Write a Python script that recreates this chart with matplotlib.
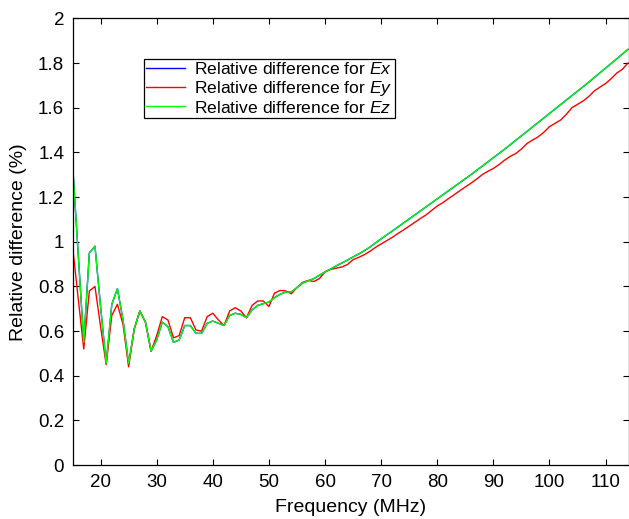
import numpy as np
import matplotlib

matplotlib.use("Agg")
import matplotlib.pyplot as plt

plt.rcParams["font.family"] = ["Liberation Sans", "DejaVu Sans"]
plt.rcParams["mathtext.fontset"] = "custom"
plt.rcParams["mathtext.it"] = "Liberation Sans:italic"
plt.rcParams["mathtext.rm"] = "Liberation Sans"

# frequency grid, 1 MHz steps
freq = np.arange(15, 115)

rel_ez = [
    1.35, 0.95, 0.55, 0.95, 0.98, 0.71, 0.455, 0.72, 0.79, 0.65,
    0.455, 0.61, 0.69, 0.64, 0.51, 0.56, 0.64, 0.62, 0.55, 0.56,
    0.625, 0.625, 0.59, 0.59, 0.635, 0.645, 0.635, 0.625, 0.67, 0.68,
    0.675, 0.66, 0.695, 0.715, 0.723, 0.73, 0.75, 0.765, 0.775, 0.775,
    0.795, 0.815, 0.825, 0.835, 0.85, 0.865, 0.878, 0.892, 0.905, 0.918,
    0.932, 0.945, 0.96, 0.976, 0.995, 1.013, 1.031, 1.048, 1.066, 1.084,
    1.102, 1.12, 1.138, 1.156, 1.174, 1.192, 1.21, 1.228, 1.246, 1.264,
    1.282, 1.3, 1.319, 1.338, 1.357, 1.376, 1.395, 1.414, 1.434, 1.454,
    1.474, 1.494, 1.514, 1.534, 1.554, 1.574, 1.594, 1.614, 1.634, 1.654,
    1.674, 1.694, 1.714, 1.735, 1.756, 1.777, 1.798, 1.819, 1.84, 1.861,
]

rel_ey = [
    0.98, 0.75, 0.52, 0.78, 0.80, 0.62, 0.45, 0.67, 0.72, 0.63,
    0.44, 0.61, 0.69, 0.64, 0.51, 0.58, 0.665, 0.65, 0.57, 0.58,
    0.66, 0.66, 0.605, 0.60, 0.665, 0.68, 0.65, 0.625, 0.69, 0.705,
    0.69, 0.66, 0.715, 0.735, 0.735, 0.71, 0.77, 0.782, 0.78, 0.767,
    0.795, 0.818, 0.827, 0.822, 0.835, 0.865, 0.876, 0.882, 0.887, 0.898,
    0.92, 0.93, 0.942, 0.957, 0.975, 0.99, 1.005, 1.02, 1.037, 1.053,
    1.07, 1.087, 1.104, 1.12, 1.14, 1.16, 1.175, 1.193, 1.21, 1.228,
    1.245, 1.262, 1.28, 1.3, 1.315, 1.328, 1.345, 1.365, 1.382, 1.395,
    1.415, 1.44, 1.455, 1.47, 1.49, 1.515, 1.53, 1.545, 1.57, 1.60,
    1.615, 1.63, 1.65, 1.675, 1.692, 1.708, 1.73, 1.755, 1.772, 1.80,
]

# Ex sits right under the Ez curve, so it is hidden in the picture
rel_ex = list(rel_ez)

x_ticks = [20, 30, 40, 50, 60, 70, 80, 90, 100, 110]
y_ticks = [0, 0.2, 0.4, 0.6, 0.8, 1, 1.2, 1.4, 1.6, 1.8, 2]
y_labels = ["0", "0.2", "0.4", "0.6", "0.8", "1", "1.2", "1.4", "1.6", "1.8", "2"]

fig = plt.figure(figsize=(6.29, 5.19), dpi=100)
ax = fig.add_axes([0.1153, 0.1037, 0.884, 0.861])

ax.plot(freq, rel_ex, color="#0000ff", lw=1.0, label=r"Relative difference for $\mathit{Ex}$")
ax.plot(freq, rel_ey, color="#ff0000", lw=1.0, label=r"Relative difference for $\mathit{Ey}$")
ax.plot(freq, rel_ez, color="#00ff00", lw=1.0, label=r"Relative difference for $\mathit{Ez}$")

ax.set_xlim(15, 114.1)
ax.set_ylim(0, 2)
ax.set_xticks(x_ticks)
ax.set_yticks(y_ticks)
ax.set_yticklabels(y_labels)
ax.tick_params(direction="in", length=4, width=0.8, top=True, right=True, labelsize=13.5, pad=6)
for side in ax.spines.values():
    side.set_linewidth(0.9)

ax.set_xlabel("Frequency (MHz)", fontsize=14, labelpad=6)
ax.set_ylabel("Relative difference (%)", fontsize=14, labelpad=8)

leg = ax.legend(loc="upper left", bbox_to_anchor=(144 / 629, 1 - 59 / 519),
                bbox_transform=fig.transFigure, fontsize=12.6, fancybox=False,
                framealpha=1, edgecolor="black", handlelength=2.2, handletextpad=0.55,
                borderpad=0.12, labelspacing=0.1, borderaxespad=0)
leg.get_frame().set_linewidth(0.9)

fig.savefig("out.png", dpi=100)
